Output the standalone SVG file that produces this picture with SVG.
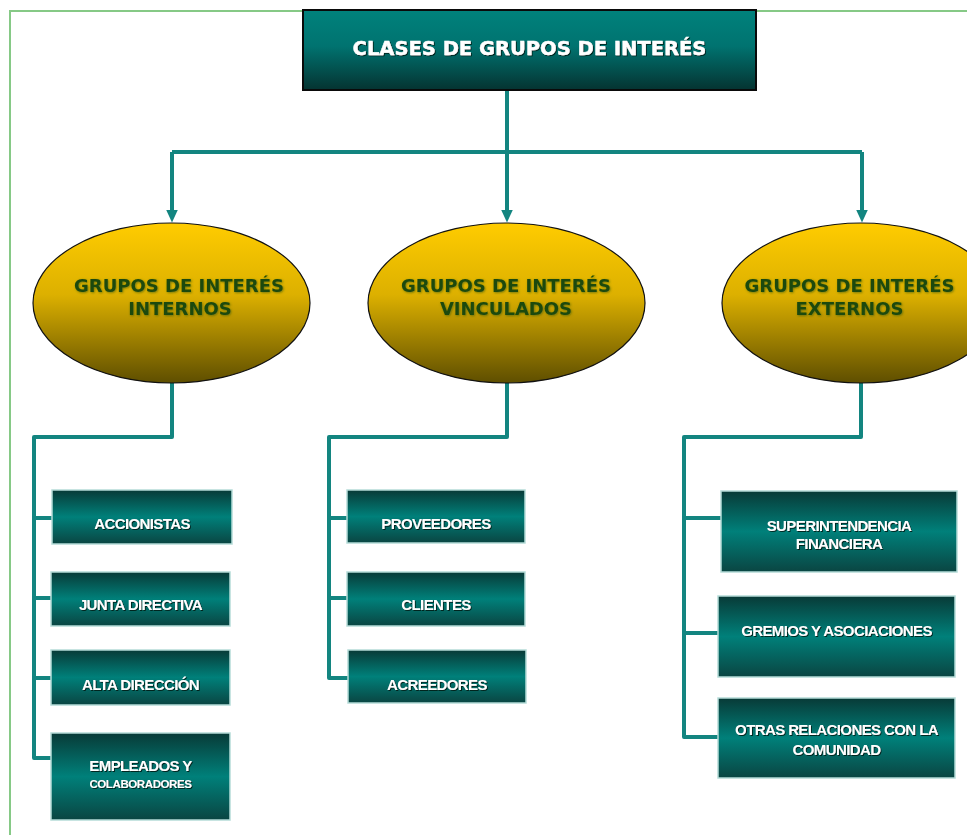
<svg xmlns="http://www.w3.org/2000/svg" width="967" height="835" viewBox="0 0 967 835">
<defs>
<linearGradient id="gTitle" x1="0" y1="0" x2="0" y2="1">
<stop offset="0" stop-color="#00827c"/><stop offset="0.45" stop-color="#007370"/><stop offset="1" stop-color="#053331"/>
</linearGradient>
<linearGradient id="gEll" x1="0" y1="0" x2="0" y2="1">
<stop offset="0" stop-color="#ffcc00"/><stop offset="0.45" stop-color="#dcb000"/><stop offset="1" stop-color="#5e4e00"/>
</linearGradient>
<linearGradient id="gBox" x1="0" y1="0" x2="0" y2="1">
<stop offset="0" stop-color="#083a37"/><stop offset="0.5" stop-color="#00807a"/><stop offset="1" stop-color="#0a4542"/>
</linearGradient>
<marker id="arr" viewBox="0 0 13 12" refX="0.5" refY="6" markerWidth="13" markerHeight="12" markerUnits="userSpaceOnUse" orient="auto">
<path d="M0 0 L13 6 L0 12 Z" fill="#138580"/>
</marker>
<filter id="sh" x="-10%" y="-30%" width="120%" height="160%">
<feDropShadow dx="1" dy="1" stdDeviation="0.6" flood-color="#001a18" flood-opacity="0.9"/>
</filter>
<filter id="shE" x="-10%" y="-30%" width="120%" height="160%">
<feDropShadow dx="0.8" dy="0.8" stdDeviation="0.8" flood-color="#3a5a10" flood-opacity="0.7"/>
</filter>
</defs>
<style>
.conn{fill:none;stroke:#138580;stroke-width:4;stroke-linejoin:round}
.ell{fill:url(#gEll);stroke:#111;stroke-width:1.2}
.box{fill:url(#gBox);stroke:#b5dcd8;stroke-width:1.5}
.et{font-family:"DejaVu Sans",Verdana,sans-serif;font-weight:bold;font-size:18px;fill:#1d4a0c;text-anchor:middle;filter:url(#shE)}
.bt{font-family:"Liberation Sans",Arial,sans-serif;font-weight:bold;font-size:15px;letter-spacing:-0.6px;fill:#ffffff;text-anchor:middle;filter:url(#sh)}
.bs{font-size:11.5px;letter-spacing:-0.4px}
</style>
<rect x="10" y="11" width="1000" height="900" fill="none" stroke="#86c986" stroke-width="2"/>
<g id="connectors">
<path class="conn" d="M507 90 V152"/>
<path class="conn" d="M172 152 H862"/>
<path class="conn" d="M172 152 V210" marker-end="url(#arr)"/>
<path class="conn" d="M507 152 V210" marker-end="url(#arr)"/>
<path class="conn" d="M862 152 V210" marker-end="url(#arr)"/>
<path class="conn" d="M172 383 V437 H34 V758 H51 M34 518 H52 M34 598 H51 M34 678 H51"/>
<path class="conn" d="M507 383 V437 H329 V678 H348 M329 518 H347 M329 598 H347"/>
<path class="conn" d="M861 383 V437 H684 V737 H718 M684 518 H721 M684 633 H718"/>
</g>
<g id="title">
<rect x="303" y="10" width="453" height="80" fill="url(#gTitle)" stroke="#0a0a0a" stroke-width="2"/>
<text x="529.5" y="55" font-family="DejaVu Sans,Verdana,sans-serif" font-weight="bold" font-size="19.5" fill="#ffffff" stroke="#ffffff" stroke-width="0.4" text-anchor="middle" filter="url(#sh)">CLASES DE GRUPOS DE INTERÉS</text>
</g>
<g id="internos">
<ellipse class="ell" cx="171.5" cy="303" rx="138.5" ry="80"/>
<text class="et" x="179" y="292">GRUPOS DE INTERÉS</text>
<text class="et" x="180" y="315">INTERNOS</text>
</g>
<g id="vinculados">
<ellipse class="ell" cx="506.5" cy="303" rx="138.5" ry="80"/>
<text class="et" x="506" y="292">GRUPOS DE INTERÉS</text>
<text class="et" x="506" y="315">VINCULADOS</text>
</g>
<g id="externos">
<ellipse class="ell" cx="861" cy="303" rx="139" ry="80"/>
<text class="et" x="849.5" y="292">GRUPOS DE INTERÉS</text>
<text class="et" x="849.5" y="315">EXTERNOS</text>
</g>
<g id="accionistas">
<rect class="box" x="52" y="490" width="180" height="54"/>
<text class="bt" x="142" y="529">ACCIONISTAS</text>
</g>
<g id="junta">
<rect class="box" x="51" y="572" width="179" height="54"/>
<text class="bt" x="140.5" y="610">JUNTA DIRECTIVA</text>
</g>
<g id="alta">
<rect class="box" x="51" y="650" width="179" height="55"/>
<text class="bt" x="140.5" y="690">ALTA DIRECCIÓN</text>
</g>
<g id="empleados">
<rect class="box" x="51" y="733" width="179" height="87"/>
<text class="bt" x="140.5" y="771">EMPLEADOS Y</text>
<text class="bt bs" x="140.5" y="788">COLABORADORES</text>
</g>
<g id="proveedores">
<rect class="box" x="347" y="490" width="178" height="53"/>
<text class="bt" x="436" y="529">PROVEEDORES</text>
</g>
<g id="clientes">
<rect class="box" x="347" y="572" width="178" height="54"/>
<text class="bt" x="436" y="610">CLIENTES</text>
</g>
<g id="acreedores">
<rect class="box" x="348" y="650" width="178" height="53"/>
<text class="bt" x="437" y="690">ACREEDORES</text>
</g>
<g id="superintendencia">
<rect class="box" x="721" y="491" width="236" height="81"/>
<text class="bt" x="839" y="531">SUPERINTENDENCIA</text>
<text class="bt" x="839" y="549">FINANCIERA</text>
</g>
<g id="gremios">
<rect class="box" x="718" y="596" width="237" height="81"/>
<text class="bt" x="836.5" y="636">GREMIOS Y ASOCIACIONES</text>
</g>
<g id="otras">
<rect class="box" x="718" y="698" width="237" height="80"/>
<text class="bt" x="836.5" y="735">OTRAS RELACIONES CON LA</text>
<text class="bt" x="836.5" y="755">COMUNIDAD</text>
</g>
</svg>
